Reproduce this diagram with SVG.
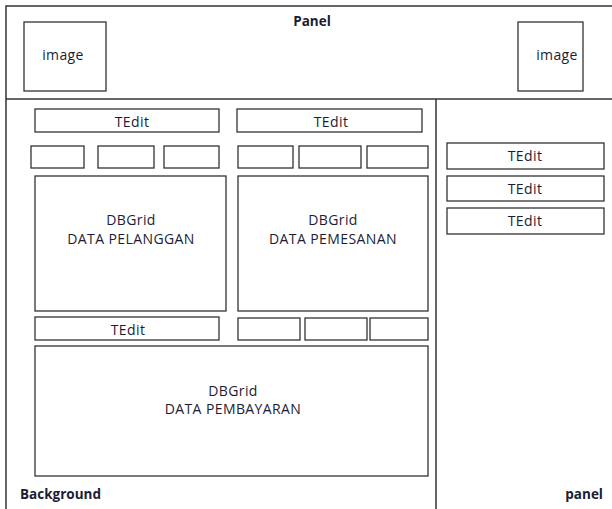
<svg xmlns="http://www.w3.org/2000/svg" width="612" height="509" viewBox="0 0 612 509">
<style>
.b{fill:#fff;stroke:#333;stroke-width:1.3}
.l{fill:none;stroke:#333;stroke-width:1.5}
.t{font-family:"Open Sans","Liberation Sans",sans-serif;font-size:14px;letter-spacing:0.4px;fill:#1a1d33;text-anchor:middle}
.h{font-family:"Open Sans","Liberation Sans",sans-serif;font-size:13.5px;font-weight:bold;fill:#1a1d33}
</style>
<rect width="612" height="509" fill="#fff"/>
<g id="frame">
<path class="l" d="M6,509 V6 H612"/>
<path class="l" d="M6,99 H612"/>
<path class="l" d="M436,99 V509"/>
</g>
<g id="panel-title"><text class="h" x="312" y="26" text-anchor="middle">Panel</text></g>
<g id="image-left"><rect class="b" x="24" y="22" width="82" height="69"/><text class="t" x="63" y="60">image</text></g>
<g id="image-right"><rect class="b" x="518" y="22" width="65" height="69"/><text class="t" x="557" y="60">image</text></g>
<g id="tedit-1"><rect class="b" x="35" y="109" width="184" height="23"/><text class="t" x="132" y="127">TEdit</text></g>
<g id="tedit-2"><rect class="b" x="237" y="109" width="185" height="23"/><text class="t" x="331" y="127">TEdit</text></g>
<g id="small-boxes-1">
<rect class="b" x="31" y="146" width="53" height="22"/>
<rect class="b" x="98" y="146" width="56" height="22"/>
<rect class="b" x="164" y="146" width="55" height="22"/>
</g>
<g id="small-boxes-2">
<rect class="b" x="238" y="146" width="55" height="22"/>
<rect class="b" x="299" y="146" width="62" height="22"/>
<rect class="b" x="367" y="146" width="61" height="22"/>
</g>
<g id="dbgrid-pelanggan"><rect class="b" x="35" y="176" width="191" height="135"/><text class="t" x="131" y="225">DBGrid</text><text class="t" x="131" y="244">DATA PELANGGAN</text></g>
<g id="dbgrid-pemesanan"><rect class="b" x="238" y="176" width="190" height="135"/><text class="t" x="333" y="225">DBGrid</text><text class="t" x="333" y="244">DATA PEMESANAN</text></g>
<g id="tedit-3"><rect class="b" x="35" y="317" width="184" height="23"/><text class="t" x="128" y="335">TEdit</text></g>
<g id="small-boxes-3">
<rect class="b" x="238" y="318" width="62" height="22"/>
<rect class="b" x="305" y="318" width="62" height="22"/>
<rect class="b" x="370" y="318" width="58" height="22"/>
</g>
<g id="dbgrid-pembayaran"><rect class="b" x="35" y="346" width="393" height="130"/><text class="t" x="233" y="396">DBGrid</text><text class="t" x="233" y="414">DATA PEMBAYARAN</text></g>
<g id="tedit-r1"><rect class="b" x="447" y="143" width="157" height="26"/><text class="t" x="525" y="161">TEdit</text></g>
<g id="tedit-r2"><rect class="b" x="447" y="176" width="157" height="25"/><text class="t" x="525" y="194">TEdit</text></g>
<g id="tedit-r3"><rect class="b" x="447" y="208" width="157" height="26"/><text class="t" x="525" y="226">TEdit</text></g>
<g id="labels">
<text class="h" x="20" y="499">Background</text>
<text class="h" x="603" y="499" text-anchor="end">panel</text>
</g>
</svg>
